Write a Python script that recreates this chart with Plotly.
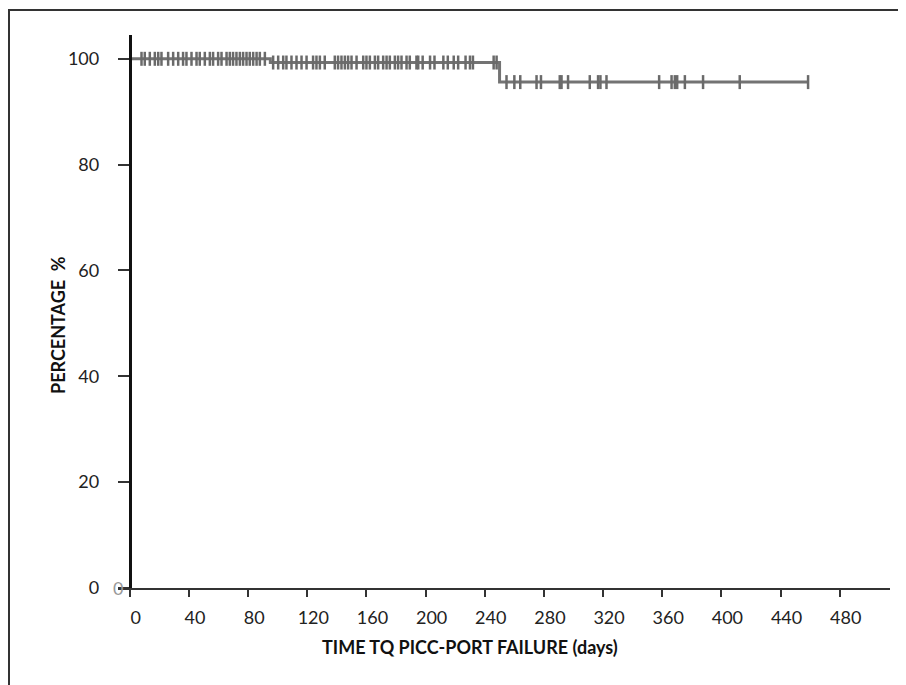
import numpy as np
import plotly.graph_objects as go

# Kaplan-Meier step data (days, percentage)
step_days = [0, 95, 250, 458]
step_surv = [100, 99.3, 95.6, 95.6]

# censored observations (days)
censor_days = [
    7.9, 10.1, 13.5, 16.9, 19.2, 21.4, 25.9, 29.3, 32.7, 36.0, 38.3, 41.7, 45.1,
    47.3, 50.7, 54.1, 56.3, 59.7, 62.0, 65.4, 67.6, 69.8, 72.1, 74.4, 76.6, 78.9,
    81.1, 83.4, 85.7, 87.9, 91.3, 96.9, 100.3, 103.7, 105.9, 109.3, 112.7, 116.1,
    119.5, 123.9, 126.2, 128.5, 131.8, 138.6, 140.8, 143.1, 145.4, 147.6, 149.9,
    153.3, 157.8, 160.0, 162.3, 165.7, 167.9, 171.3, 173.6, 175.8, 179.2, 181.4,
    183.7, 187.1, 189.3, 193.8, 195, 198, 203, 206, 212, 215, 219, 222, 227, 230,
    232, 246, 248, 254.7, 260, 264, 275, 278, 290.7, 291.9, 296.3, 311, 316.6,
    318.2, 322.3, 357.9, 366.3, 368.5, 370.1, 375.3, 387.6, 412.4, 458.6,
]

x_ticks = list(range(0, 481, 40))
y_ticks = [0, 20, 40, 60, 80, 100]
x_range = [-8, 514]
y_range = [0, 104.5]

x_title = "<b>TIME TQ PICC-PORT FAILURE (days)</b>"
y_title = "<b>PERCENTAGE  %</b>"

def surv_at(t):
    idx = np.searchsorted(step_days, t, side="right") - 1
    return step_surv[max(idx, 0)]

censor_surv = [surv_at(t) for t in censor_days]

W, H = 906, 685
OFF = 8  # page body margin
ML, MT = 118 - OFF, 35 - OFF
PLOT_R, PLOT_B = 890 - OFF, 588 - OFF
MR, MB = W - PLOT_R, H - PLOT_B
FONT = "Lato, 'Open Sans', sans-serif"
pw = W - ML - MR
ph = H - MT - MB

def px(xp):
    return (xp - OFF - ML) / pw

def py(yp):
    return (PLOT_B - (yp - OFF)) / ph

fig = go.Figure()
fig.add_trace(go.Scatter(
    x=step_days, y=step_surv, mode="lines", line_shape="hv",
    line=dict(color="#737373", width=3), showlegend=False, hoverinfo="skip"))
fig.add_trace(go.Scatter(
    x=censor_days, y=censor_surv, mode="markers",
    marker=dict(symbol="line-ns", size=10, line=dict(color="#6a6a6a", width=2.5)),
    showlegend=False))

ypos = (0 - x_range[0]) / (x_range[1] - x_range[0])

fig.update_layout(
    width=W, height=H,
    margin=dict(l=ML, r=MR, t=MT, b=MB, autoexpand=False),
    paper_bgcolor="white", plot_bgcolor="white",
    font=dict(family=FONT, size=18, color="#222"),
    xaxis=dict(
        range=x_range, tickvals=x_ticks, ticktext=[str(v) for v in x_ticks],
        showline=True, linecolor="#333", linewidth=2,
        ticks="outside", ticklen=7, tickwidth=2, tickcolor="#333",
        showgrid=False, zeroline=False, ticklabelshift=6, ticklabelstandoff=5,
        automargin=False, tickfont=dict(size=18),
    ),
    yaxis=dict(
        range=y_range, tickvals=y_ticks, ticktext=[str(v) for v in y_ticks],
        anchor="free", position=ypos, automargin=False,
        showline=True, linecolor="#111", linewidth=3,
        ticks="outside", ticklen=11, tickwidth=2, tickcolor="#333",
        ticklabelstandoff=15,
        showgrid=False, zeroline=False, tickfont=dict(size=18),
    ),
    shapes=[dict(type="rect", xref="paper", yref="paper",
                 x0=px(9), x1=px(930), y0=py(700), y1=py(10),
                 line=dict(color="#333", width=2), fillcolor="rgba(0,0,0,0)",
                 layer="below")],
    annotations=[
        dict(text="0", xref="paper", yref="y", x=px(111), y=0,
             showarrow=False, font=dict(size=18, color="#999", family=FONT)),
        dict(text=x_title, xref="paper", yref="paper",
             x=px(470), y=py(660), showarrow=False,
             font=dict(size=18, color="#111", family=FONT)),
        dict(text=y_title, xref="paper", yref="paper", textangle=-90,
             x=px(45), y=py(325), showarrow=False,
             font=dict(size=18, color="#111", family=FONT)),
    ],
)

fig.write_html("out.html")
